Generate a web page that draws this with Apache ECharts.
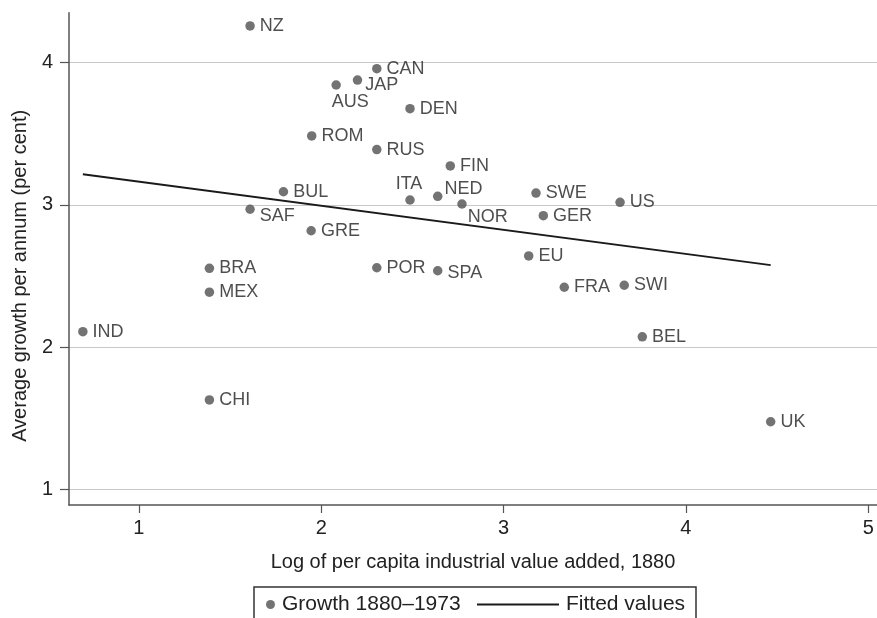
<!DOCTYPE html>
<html>
<head>
<meta charset="utf-8">
<title>Growth 1880-1973</title>
<script src="https://cdn.jsdelivr.net/npm/echarts@6/dist/echarts.min.js"></script>
<style>
	html, body { margin: 0; padding: 0; background: #fff; }
	#growthChart { width: 877px; height: 618px; }
</style>
</head>
<body>
<div id="growthChart"></div>
<script>
// 国家代码
var countries = ['NZ', 'CAN', 'JAP', 'AUS', 'DEN', 'ROM', 'RUS', 'FIN', 'BUL', 'ITA', 'NED', 'NOR', 'SWE', 'GER', 'SAF', 'US',
	'GRE', 'EU', 'BRA', 'POR', 'SPA', 'MEX', 'SWI', 'FRA', 'IND', 'BEL', 'CHI', 'UK'];
// 1880年人均工业增加值（对数）
var logIndValue = [1.61, 2.305, 2.199, 2.082, 2.487, 1.948, 2.305, 2.708, 1.793, 2.487, 2.639, 2.772, 3.178, 3.218, 1.61, 3.639,
	1.945, 3.138, 1.387, 2.305, 2.639, 1.387, 3.662, 3.333, 0.693, 3.761, 1.387, 4.465];
// 1880-1973 年均增长率
var growthRate = [4.258, 3.958, 3.878, 3.843, 3.677, 3.485, 3.389, 3.274, 3.093, 3.035, 3.061, 3.007, 3.084, 2.925, 2.97, 3.019,
	2.819, 2.642, 2.555, 2.559, 2.538, 2.387, 2.436, 2.422, 2.11, 2.074, 1.63, 1.477];
// 拟合线两端
var fittedX = [0.693, 4.465];
var fittedY = [3.216, 2.578];
// 刻度
var xTicks = [1, 2, 3, 4, 5];
var yTicks = [1, 2, 3, 4];

var fontName = '"Liberation Sans", Arial, Helvetica, sans-serif';

// 个别标签的位置调整
var labelTweak = {
	SAF: { offset: [0, 7] },
	NOR: { offset: [-4, 13] },
	JAP: { offset: [-2, 5] },
	NED: { offset: [-3, -7] },
	SPA: { offset: [0, 2] },
	AUS: { position: 'bottom', offset: [14, -2] },
	ITA: { position: 'top', offset: [-1, 3] }
};

var pointData = [];
for (var i = 0; i < countries.length; i++) {
	var item = { name: countries[i], value: [logIndValue[i], growthRate[i]] };
	if (labelTweak[countries[i]]) {
		item.label = labelTweak[countries[i]];
	}
	pointData.push(item);
}
var fittedData = [];
for (var j = 0; j < fittedX.length; j++) {
	fittedData.push([fittedX[j], fittedY[j]]);
}

var growthChart = echarts.init(document.getElementById('growthChart'));
var option = {
	animation : false,
	textStyle : { fontFamily : fontName },
	grid : {
		left : 69,
		right : 0,
		top : 12.7,
		bottom : 113
	},
	xAxis : {
		type : 'value',
		min : 0.617,
		max : 5.048,
		name : 'Log of per capita industrial value added, 1880',
		nameLocation : 'middle',
		nameGap : 47,
		nameTextStyle : { fontSize : 20, color : '#222', fontFamily : fontName },
		axisLine : { show : true, onZero : false, lineStyle : { color : '#555', width : 1.5 } },
		axisTick : { show : true, length : 8, customValues : xTicks, lineStyle : { color : '#555', width : 1.2 } },
		axisLabel : { customValues : xTicks, fontSize : 20, color : '#222', margin : 13, fontFamily : fontName },
		splitLine : { show : false }
	},
	yAxis : {
		type : 'value',
		min : 0.892,
		max : 4.351,
		name : 'Average growth per annum (per cent)',
		nameLocation : 'middle',
		nameGap : 36,
		nameTextStyle : { fontSize : 20, color : '#222', fontFamily : fontName, padding : [0, 34, 0, 0] },
		axisLine : { show : true, onZero : false, lineStyle : { color : '#555', width : 1.5 } },
		axisTick : { show : true, length : 9, customValues : yTicks, lineStyle : { color : '#555', width : 1.2 } },
		axisLabel : { customValues : yTicks, fontSize : 20, color : '#222', margin : 16, fontFamily : fontName },
		splitLine : { show : true, lineStyle : { color : '#c8c8c8', width : 1.2 } }
	},
	legend : [ {
		data : [ 'Growth 1880–1973' ],
		left : 266,
		top : 594,
		padding : 0,
		itemWidth : 9,
		itemHeight : 9,
		itemGap : 0,
		icon : 'circle',
		textStyle : { fontSize : 21, color : '#222', fontFamily : fontName, padding : [0, 0, 0, 2] }
	}, {
		data : [ { name : 'Fitted values', icon : 'rect' } ],
		left : 477,
		top : 594,
		padding : 0,
		itemWidth : 82,
		itemHeight : 1.8,
		textStyle : { fontSize : 21, color : '#222', fontFamily : fontName, padding : [0, 0, 0, 2] }
	} ],
	graphic : [ {
		type : 'rect',
		shape : { x : 254, y : 587, width : 442, height : 60 },
		style : { fill : 'none', stroke : '#333', lineWidth : 1.5 },
		silent : true
	} ],
	series : [ {
		name : 'Growth 1880–1973',
		type : 'scatter',
		symbolSize : 9.5,
		itemStyle : { color : '#505050' },
		label : {
			show : true,
			position : 'right',
			distance : 5,
			formatter : '{b}',
			fontSize : 18,
			color : '#222',
			fontFamily : fontName
		},
		data : pointData
	}, {
		name : 'Fitted values',
		type : 'line',
		symbol : 'none',
		lineStyle : { color : '#1a1a1a', width : 1.8 },
		itemStyle : { color : '#1a1a1a' },
		data : fittedData
	} ]
};
growthChart.setOption(option);
</script>
</body>
</html>
